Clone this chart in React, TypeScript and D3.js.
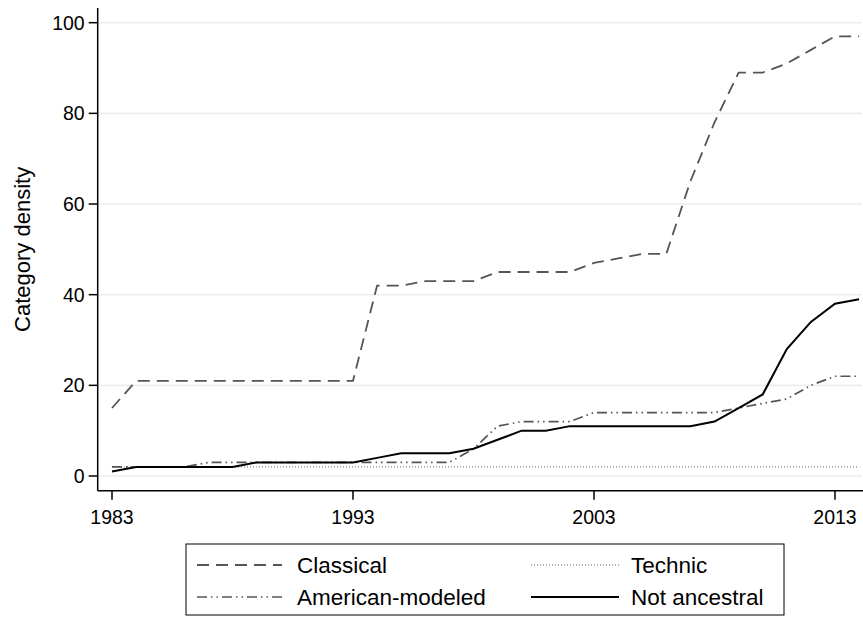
import React, { useEffect, useRef } from 'react';
import * as d3 from 'd3';

const years = [1983, 1984, 1985, 1986, 1987, 1988, 1989, 1990, 1991, 1992, 1993, 1994, 1995, 1996, 1997, 1998,
  1999, 2000, 2001, 2002, 2003, 2004, 2005, 2006, 2007, 2008, 2009, 2010, 2011, 2012, 2013, 2014];
const classical = [15, 21, 21, 21, 21, 21, 21, 21, 21, 21, 21, 42, 42, 43, 43, 43,
  45, 45, 45, 45, 47, 48, 49, 49, 65, 78, 89, 89, 91, 94, 97, 97];
const technic = [2, 2, 2, 2, 2, 2, 2, 2, 2, 2, 2, 2, 2, 2, 2, 2,
  2, 2, 2, 2, 2, 2, 2, 2, 2, 2, 2, 2, 2, 2, 2, 2];
const americanModeled = [2, 2, 2, 2, 3, 3, 3, 3, 3, 3, 3, 3, 3, 3, 3, 6,
  11, 12, 12, 12, 14, 14, 14, 14, 14, 14, 15, 16, 17, 20, 22, 22];
const notAncestral = [1, 2, 2, 2, 2, 2, 3, 3, 3, 3, 3, 4, 5, 5, 5, 6,
  8, 10, 10, 11, 11, 11, 11, 11, 11, 12, 15, 18, 28, 34, 38, 39];
const xTicks = [1983, 1993, 2003, 2013];
const yTicks = [0, 20, 40, 60, 80, 100];

const FONT = '"Liberation Sans", Arial, sans-serif';

const App = () => {
  const svgRef = useRef<SVGSVGElement>(null);

  useEffect(() => {
    const width = 863;
    const height = 618;
    const svg = d3.select(svgRef.current);
    svg.selectAll('*').remove();
    svg.attr('width', width).attr('height', height);

    svg.append('rect').attr('width', width).attr('height', height).attr('fill', '#fff');

    const x = d3.scaleLinear().domain([1983, 2013]).range([112, 835]);
    const y = d3.scaleLinear().domain([0, 100]).range([476, 22.7]);
    const axisLeft = 97.7;
    const axisBottom = 490.7;
    const plotRight = 862;

    // grid
    yTicks.forEach(t => {
      svg.append('line')
        .attr('x1', axisLeft).attr('x2', plotRight)
        .attr('y1', y(t)).attr('y2', y(t))
        .style('stroke', '#eaeef2').style('stroke-width', '1.6px');
    });

    // series
    const series = [
      { name: 'Classical', values: classical, color: '#555', w: 1.8, dash: '12,7' },
      { name: 'American-modeled', values: americanModeled, color: '#555', w: 1.7, dash: '10,4,1.5,4,1.5,4' },
      { name: 'Technic', values: technic, color: '#666', w: 1, dash: '1,2' },
      { name: 'Not ancestral', values: notAncestral, color: '#000', w: 2, dash: null },
    ];

    const line = d3.line<number>()
      .x((_, i) => x(years[i]))
      .y(d => y(d));

    const drawOrder = [2, 1, 3, 0];
    drawOrder.forEach(k => {
      const s = series[k];
      svg.append('path')
        .datum(s.values)
        .attr('d', line)
        .style('fill', 'none')
        .style('stroke', s.color)
        .style('stroke-width', `${s.w}px`)
        .style('stroke-dasharray', s.dash ?? 'none');
    });

    // axes
    svg.append('line')
      .attr('x1', axisLeft).attr('x2', axisLeft)
      .attr('y1', 8).attr('y2', axisBottom)
      .style('stroke', '#000').style('stroke-width', '1.5px');
    svg.append('line')
      .attr('x1', axisLeft).attr('x2', plotRight + 1)
      .attr('y1', axisBottom).attr('y2', axisBottom)
      .style('stroke', '#000').style('stroke-width', '1.5px');

    yTicks.forEach(t => {
      svg.append('line')
        .attr('x1', axisLeft - 9).attr('x2', axisLeft)
        .attr('y1', y(t)).attr('y2', y(t))
        .style('stroke', '#000').style('stroke-width', '1.5px');
      svg.append('text')
        .attr('x', axisLeft - 13).attr('y', y(t))
        .style('text-anchor', 'end')
        .style('dominant-baseline', 'central')
        .style('font-family', FONT)
        .style('font-size', '19.5px')
        .text(t);
    });

    xTicks.forEach(t => {
      svg.append('line')
        .attr('x1', x(t)).attr('x2', x(t))
        .attr('y1', axisBottom).attr('y2', axisBottom + 9)
        .style('stroke', '#000').style('stroke-width', '1.5px');
      svg.append('text')
        .attr('x', x(t)).attr('y', axisBottom + 26)
        .style('text-anchor', 'middle')
        .style('dominant-baseline', 'central')
        .style('font-family', FONT)
        .style('font-size', '19.5px')
        .text(t);
    });

    // y axis title
    svg.append('text')
      .attr('transform', `translate(22,${(y(0) + y(100)) / 2}) rotate(-90)`)
      .style('text-anchor', 'middle')
      .style('dominant-baseline', 'central')
      .style('font-family', FONT)
      .style('font-size', '22px')
      .text('Category density');

    // legend
    const lg = svg.append('g');
    lg.append('rect')
      .attr('x', 186).attr('y', 544).attr('width', 598).attr('height', 71)
      .style('fill', '#fff').style('stroke', '#000').style('stroke-width', '1px');

    const cells = [
      { k: 0, col: 0, row: 0 },
      { k: 2, col: 1, row: 0 },
      { k: 1, col: 0, row: 1 },
      { k: 3, col: 1, row: 1 },
    ];
    const colX = [[197, 282, 297], [531, 619, 631]];
    const rowY = [565, 597];
    cells.forEach(c => {
      const s = series[c.k];
      const [x1, x2, tx] = colX[c.col];
      const yy = rowY[c.row];
      lg.append('line')
        .attr('x1', x1).attr('x2', x2).attr('y1', yy).attr('y2', yy)
        .style('stroke', s.color)
        .style('stroke-width', `${s.w}px`)
        .style('stroke-dasharray', s.dash ?? 'none');
      lg.append('text')
        .attr('x', tx).attr('y', yy)
        .style('dominant-baseline', 'central')
        .style('font-family', FONT)
        .style('font-size', '22.5px')
        .text(s.name);
    });
  }, []);

  return <svg ref={svgRef} style={{ position: 'absolute', left: 0, top: 0 }}></svg>;
};

export default App;
